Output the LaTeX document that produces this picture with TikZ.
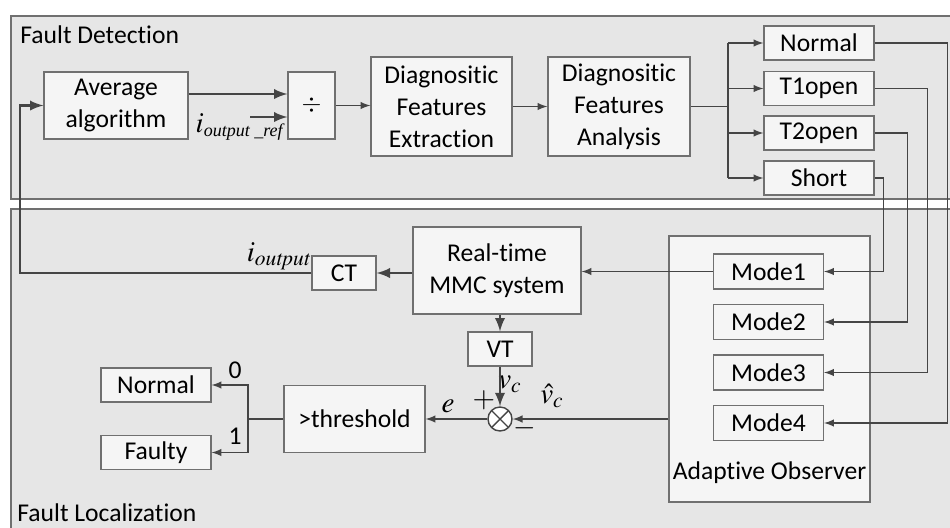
\documentclass[tikz,border=0pt]{standalone}
\usepackage{mathptmx}
\usepackage[no-math]{fontspec}
\setmainfont{Carlito}[Ligatures=NoCommon]
\newfontfamily\symfont{Liberation Serif}
\usetikzlibrary{arrows}
\usetikzlibrary{positioning,shapes}
\usepackage{amsmath}

\definecolor{panel}{HTML}{E6E6E6}
\definecolor{boxfill}{HTML}{F5F5F5}
\definecolor{edge}{HTML}{707070}
\definecolor{wire}{HTML}{454545}

\begin{document}
\begin{tikzpicture}[%
        x=0.5pt, y=-0.5pt,
        every node/.style={inner sep=0pt, font=\fontsize{12.8}{16}\selectfont},
        blk/.style={draw=edge, fill=boxfill, align=center, line width=0.6pt},
        sbox/.style={blk, minimum width=55pt, minimum height=17pt},
        lbl/.style={font=\fontsize{14.5}{16}\selectfont},
        thk/.style={draw=wire, line width=1.3pt},
        thn/.style={draw=wire, line width=0.7pt},
        >=latex
      ]
      \useasboundingbox (0,0) rectangle (950,527);
      \clip (0,0) rectangle (950,527);
      % panels
      \draw [draw=edge, fill=panel, line width=0.6pt] (11,16) rectangle (960,199);
      \draw [draw=edge, fill=panel, line width=0.6pt] (11,209) rectangle (960,540);
      \node [anchor=base west] (fd) at (20,43) {Fault Detection};
      \node [anchor=base west] (fl) at (17,521) {Fault Localization};

      % fault detection
      \node [blk, minimum width=72pt, minimum height=33.5pt] (avg) at (116,105.5) {Average\\algorithm};
      \node [blk, minimum width=23.5pt, minimum height=33.5pt] (div) at (311.5,105.5) {$\div$};
      \node [blk, minimum width=70.5pt, minimum height=49.5pt] (ext) at (441.5,106.5) {Diagnositic\\Features\\Extraction};
      \node [blk, minimum width=71pt, minimum height=49.5pt] (ana) at (619,106.5) {Diagnositic\\Features\\Analysis};
      \node [sbox] (nrm) at (819,43) {Normal};
      \node [sbox] (t1) at (819,88.5) {T1open};
      \node [sbox] (t2) at (819,133) {T2open};
      \node [sbox] (sh) at (819,178) {Short};

      % fault localization
      \node [blk, minimum width=84pt, minimum height=43.5pt] (mmc) at (497,270.5) {Real-time\\MMC system};
      \node [blk, minimum width=32pt, minimum height=17pt] (ct) at (344,273) {CT};
      \node [blk, minimum width=32pt, minimum height=17pt] (vt) at (500,349) {VT};
      \node [circle, draw=wire, fill=white, line width=0.7pt, minimum size=12pt,
             path picture={\draw [wire, line width=0.7pt]
               (path picture bounding box.north west) -- (path picture bounding box.south east)
               (path picture bounding box.north east) -- (path picture bounding box.south west);}]
             (sum) at (500,419) {};
      \node [blk, minimum width=70.5pt, minimum height=33.5pt] (thr) at (354.5,419) {>threshold};
      \node [sbox] (n0) at (156,385) {Normal};
      \node [sbox] (f1) at (156,452.5) {Faulty};
      \node [blk, minimum width=100.5pt, minimum height=133pt] (obs) at (769.5,369) {};
      \node [anchor=base] (obst) at (769.5,479) {Adaptive Observer};
      \node [sbox, minimum height=17.5pt] (m1) at (768.5,271.5) {Mode1};
      \node [sbox, minimum height=17.5pt] (m2) at (768.5,322) {Mode2};
      \node [sbox, minimum height=17.5pt] (m3) at (768.5,372.5) {Mode3};
      \node [sbox, minimum height=17.5pt] (m4) at (768.5,423) {Mode4};

      % labels
      \node [lbl, anchor=east] (iref) at (284,127)
            {$i_{\text{\symfont\itshape\fontsize{9}{10}\selectfont output \_ref}}$};
      \node [lbl] (iout) at (279,256) {$i_{\mathit{output}}$};
      \node [lbl] (vc) at (510,384) {$v_c$};
      \node [lbl] (vh) at (552,396) {$\hat{v}_c$};
      \node [lbl] (pl) at (484,400) {$+$};
      \node [lbl] (mi) at (525,428) {$-$};
      \node [lbl] (e) at (448,406) {$e$};
      \node (z) at (235,370) {0};
      \node (o) at (235,436) {1};

      % connectors
      \coordinate (ref) at (250,117);
      \draw [thk,->] ([yshift=5.75pt]avg.east) -- ([yshift=5.75pt]avg.east -| div.west);
      \draw [thk,->] (ref) -- (ref -| div.west);
      \draw [thn,->] (div.east) -- (ext.west |- div);
      \draw [thn,->] (ext.east) -- (ana.west);
      \draw [thn] (ana.east) -- (728,106.5) coordinate (sp);
      \draw [thn] (sp |- nrm) -- (sp |- sh);
      \foreach \n in {nrm,t1,t2,sh}
        \draw [thn,->] (sp |- \n) -- (\n.west);
      \draw [thn,->] (sh.east) -- ++(9,0) |- (m1.east);
      \draw [thn,->] (t2.east) -- ++(33,0) |- (m2.east);
      \draw [thn,->] (t1.east) -- ++(53,0) |- (m3.east);
      \draw [thn,->] (nrm.east) -- ++(73,0) |- (m4.east);
      \draw [thn,->] (m1.west) -- (m1.west -| mmc.east);
      \draw [thk,->] (mmc.west |- ct) -- (ct.east);
      \draw [thk,->] (ct.west) -- (20,273) |- (avg.west);
      \draw [thk,->] (mmc.south -| vt) -- (vt.north);
      \draw [thk,->] (vt.south) -- (sum.north);
      \draw [thn,->] (obs.west |- sum) -- (sum.east);
      \draw [thn,->] (sum.west) -- (thr.east);
      \draw [thn] (thr.west) -- (248,419) coordinate (br);
      \draw [thn,->] (br) |- (n0.east);
      \draw [thn,->] (br) |- (f1.east);
    \end{tikzpicture}
\end{document}
